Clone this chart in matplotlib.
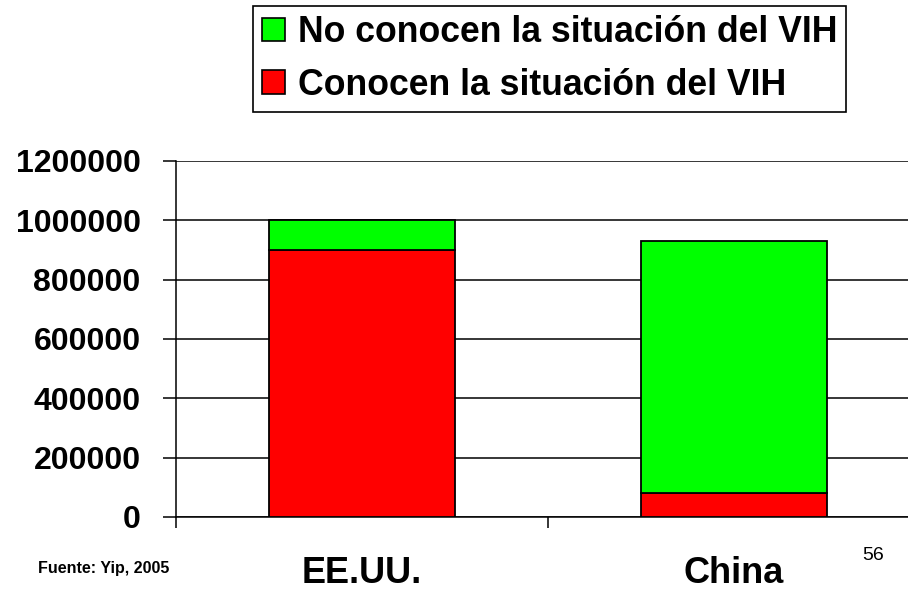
import numpy as np
import matplotlib.pyplot as plt
from matplotlib.patches import Patch

plt.rcParams['font.family'] = ['Liberation Sans', 'DejaVu Sans']

paises = ['EE.UU.', 'China']
conocen = [900000, 80000]
no_conocen = [100000, 850000]
yticks = [0, 200000, 400000, 600000, 800000, 1000000, 1200000]

verde = '#00FF00'
rojo = '#FF0000'

fig = plt.figure(figsize=(9.08, 5.96), dpi=100)
ax = fig.add_axes([176 / 908, 1 - 517 / 596, 744 / 908, 356 / 596])

x = np.arange(len(paises)) + 0.5
ax.bar(x, conocen, width=0.5, color=rojo, edgecolor='black', linewidth=1.3, zorder=3)
ax.bar(x, no_conocen, width=0.5, bottom=conocen, color=verde, edgecolor='black',
       linewidth=1.3, zorder=3)

ax.set_xlim(0, len(paises))
ax.set_ylim(0, 1200000)
ax.set_yticks(yticks)
ax.set_yticklabels([str(v) for v in yticks], fontsize=23, fontweight='bold')
ax.yaxis.grid(True, color='black', linewidth=1.1, zorder=0)
ax.set_axisbelow(True)

# separadores de categoría como ticks mayores, nombres en ticks menores
ax.set_xticks(np.arange(len(paises) + 1))
ax.set_xticklabels([])
ax.set_xticks(x, minor=True)
ax.set_xticklabels(paises, minor=True, fontsize=26, fontweight='bold')
ax.tick_params(axis='x', which='major', direction='out', length=8, width=1.1)
ax.tick_params(axis='x', which='minor', length=0, pad=28)
ax.tick_params(axis='y', direction='out', length=9.5, width=1.1, pad=16)

for side in ['top', 'right']:
    ax.spines[side].set_visible(False)
for side in ['left', 'bottom']:
    ax.spines[side].set_linewidth(1.1)

handles = [Patch(facecolor=verde, edgecolor='black', linewidth=1.2),
           Patch(facecolor=rojo, edgecolor='black', linewidth=1.2)]
labels = ['No conocen la situación del VIH', 'Conocen la situación del VIH']
leg = fig.legend(handles, labels, loc='upper right', bbox_to_anchor=(846 / 908, 1 - 6 / 596),
                 prop={'size': 25.7, 'weight': 'bold'}, frameon=True, fancybox=False,
                 edgecolor='black', framealpha=1, handlelength=0.64, handleheight=0.64,
                 handletextpad=0.36, borderpad=0.25, labelspacing=0.5, borderaxespad=0)
leg.get_frame().set_linewidth(1.2)

fig.text(38 / 908, 1 - 569 / 596, 'Fuente: Yip, 2005', fontsize=11.5, fontweight='bold',
         va='center', ha='left')
fig.text(873 / 908, 1 - 555 / 596, '56', fontsize=14, va='center', ha='center')

fig.savefig('out.png', dpi=100)
